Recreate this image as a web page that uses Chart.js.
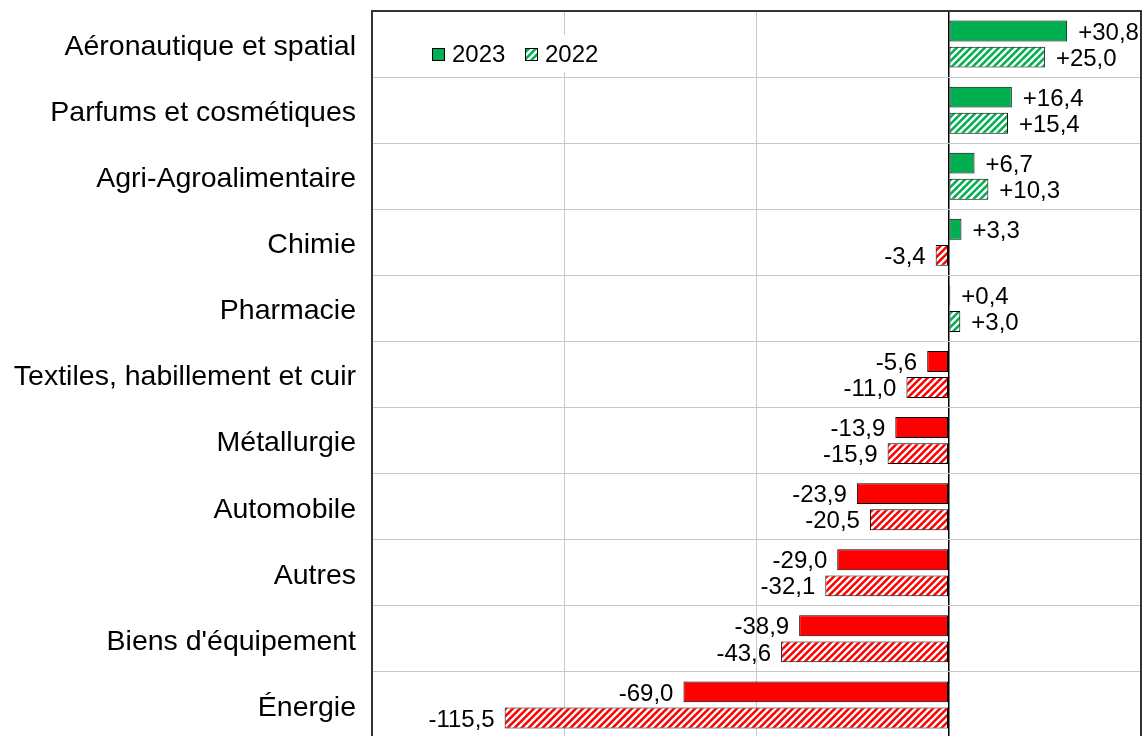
<!DOCTYPE html>
<html>
<head>
<meta charset="utf-8">
<script src="https://cdn.jsdelivr.net/npm/chart.js@4/dist/chart.umd.min.js"></script>
<style>
  html, body { margin: 0; padding: 0; overflow: hidden; background: #fff; }
</style>
</head>
<body>
<canvas id="chart" width="1142" height="738"></canvas>
<script>
const categories = [
    'Aéronautique et spatial',
    'Parfums et cosmétiques',
    'Agri-Agroalimentaire',
    'Chimie',
    'Pharmacie',
    'Textiles, habillement et cuir',
    'Métallurgie',
    'Automobile',
    'Autres',
    "Biens d'équipement",
    'Énergie',
];
const seriesNames = ['2023', '2022'];
const values2023 = [30.8, 16.4, 6.7, 3.3, 0.4, -5.6, -13.9, -23.9, -29.0, -38.9, -69.0];
const values2022 = [25.0, 15.4, 10.3, -3.4, 3.0, -11.0, -15.9, -20.5, -32.1, -43.6, -115.5];
const xMin = -150;
const xMax = 50;
const xStep = 50;

const GREEN = '#00b050';
const RED = '#ff0000';
const FONT = '"Liberation Sans", Arial, sans-serif';

const canvas = document.getElementById('chart');
const ctx = canvas.getContext('2d');

// white diagonal stripes over the base colour
function hatch(color) {
    const s = 7;
    const c = document.createElement('canvas');
    c.width = s;
    c.height = s;
    const g = c.getContext('2d');
    g.fillStyle = color;
    g.fillRect(0, 0, s, s);
    g.strokeStyle = '#fff';
    g.lineWidth = 2.4;
    g.beginPath();
    g.moveTo(0, s); g.lineTo(s, 0);
    g.moveTo(-1, 1); g.lineTo(1, -1);
    g.moveTo(s - 1, s + 1); g.lineTo(s + 1, s - 1);
    g.stroke();
    return ctx.createPattern(c, 'repeat');
}
const greenHatch = hatch(GREEN);
const redHatch = hatch(RED);

function fmt(v) {
    return (v >= 0 ? '+' : '') + v.toFixed(1).replace('.', ',');
}

const valueLabels = {
    id: 'valueLabels',
    afterDatasetsDraw(chart) {
        const c = chart.ctx;
        c.save();
        c.font = '24px ' + FONT;
        c.fillStyle = '#000';
        c.textBaseline = 'middle';
        chart.data.datasets.forEach((ds, i) => {
            chart.getDatasetMeta(i).data.forEach((bar, j) => {
                const v = ds.data[j];
                c.textAlign = v >= 0 ? 'left' : 'right';
                c.fillText(fmt(v), v >= 0 ? bar.x + 11 : bar.x - 10, bar.y + 2);
            });
        });
        c.restore();
    }
};

const frameAndLegend = {
    id: 'frameAndLegend',
    afterDraw(chart) {
        const c = chart.ctx;
        const a = chart.chartArea;
        c.save();
        // plot frame (bottom is off-screen)
        c.strokeStyle = '#333';
        c.lineWidth = 2;
        c.beginPath();
        c.moveTo(a.left, a.bottom);
        c.lineTo(a.left, a.top);
        c.lineTo(a.right, a.top);
        c.lineTo(a.right, a.bottom);
        c.stroke();

        // legend inside the plot
        c.fillStyle = '#fff';
        c.fillRect(415, 35, 197, 37);
        c.font = '24px ' + FONT;
        c.textBaseline = 'middle';
        c.textAlign = 'left';
        const fills = [GREEN, greenHatch];
        const xs = [432, 525];
        seriesNames.forEach((name, i) => {
            c.fillStyle = fills[i];
            c.fillRect(xs[i], 48, 13, 13);
            c.strokeStyle = '#000';
            c.lineWidth = 1;
            c.strokeRect(xs[i] + 0.5, 48.5, 12, 12);
            c.fillStyle = '#000';
            c.fillText(name, xs[i] + 20, 55);
        });
        c.restore();
    }
};

new Chart(ctx, {
    type: 'bar',
    data: {
        labels: categories,
        datasets: [
            {
                label: seriesNames[0],
                data: values2023,
                backgroundColor: (c) => (c.raw >= 0 ? GREEN : RED),
                borderColor: '#000',
                borderWidth: 1,
                borderSkipped: false,
            },
            {
                label: seriesNames[1],
                data: values2022,
                backgroundColor: (c) => (c.raw >= 0 ? greenHatch : redHatch),
                borderColor: '#000',
                borderWidth: 1,
                borderSkipped: false,
            },
        ],
    },
    options: {
        indexAxis: 'y',
        responsive: false,
        animation: false,
        categoryPercentage: 0.79,
        barPercentage: 0.8,
        layout: { autoPadding: false, padding: { top: 11, right: 1, left: 0, bottom: 0 } },
        plugins: {
            legend: { display: false },
            tooltip: { enabled: false },
        },
        scales: {
            x: {
                min: xMin,
                max: xMax,
                ticks: { display: false, stepSize: xStep },
                border: { display: false },
                grid: {
                    drawTicks: false,
                    color: (c) => (c.tick && c.tick.value === 0 ? '#000' : '#c8c8c8'),
                    lineWidth: (c) => (c.tick && c.tick.value === 0 ? 1.5 : 1),
                },
                afterFit(scale) { scale.height = 0; },
            },
            y: {
                border: { display: false },
                grid: { drawTicks: false, color: '#c8c8c8', offset: true },
                ticks: {
                    padding: 16,
                    labelOffset: 3,
                    color: '#000',
                    font: { family: FONT, size: 28.5 },
                },
                afterFit(scale) {
                    scale.width = 372;
                    scale.paddingTop = 0;
                    scale.paddingBottom = 0;
                },
            },
        },
    },
    plugins: [valueLabels, frameAndLegend],
});
</script>
</body>
</html>
